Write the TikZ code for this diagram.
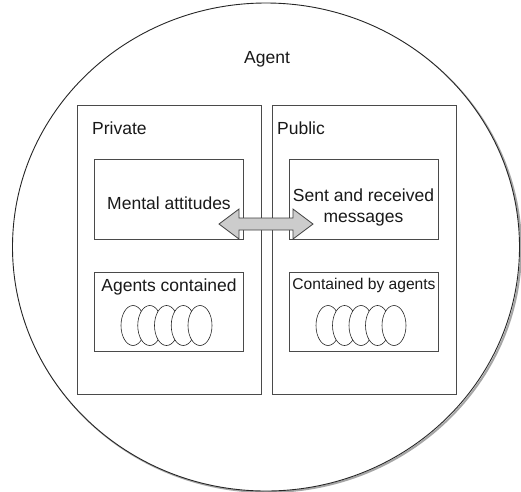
\documentclass[tikz,border=0pt]{standalone}
\usepackage{fontspec}
\setmainfont{Liberation Sans}
\usetikzlibrary{shapes.geometric,calc}
\definecolor{edge}{HTML}{4A4A4A}
\definecolor{arrowfill}{HTML}{CCCCCC}
\tikzset{
  region/.style={draw=edge,line width=0.9pt,fill=white,inner sep=0pt},
  inbox/.style={draw=edge,line width=0.9pt,fill=white,minimum width=149pt,minimum height=80pt,inner sep=0pt},
  lbl/.style={font=\fontsize{17.5}{21}\selectfont,text=black!90,inner sep=0pt,align=center},
  small/.style={font=\fontsize{15.6}{19}\selectfont,text=black!90,inner sep=0pt},
  blob/.style={draw=black!85,line width=0.6pt,fill=white,ellipse,minimum width=24pt,minimum height=40pt,inner sep=0pt},
  dbl/.style={draw=black!75,fill=arrowfill,line width=0.8pt,line join=miter}
}
\begin{document}
\begin{tikzpicture}[x=1pt,y=-1pt]
\useasboundingbox (0,0) rectangle (521,491);
% shadow and outer agent circle
\draw[black!35,line width=2pt] (267.5,248.5) ellipse [x radius=253.5,y radius=243.5];
\node[ellipse,draw=black!85,line width=0.9pt,fill=white,minimum width=507pt,minimum height=488pt,inner sep=0pt] (agent) at (266,247) {};
\node[lbl] (agentlbl) at (267,59) {Agent};
% private / public regions
\node[region,minimum width=184pt,minimum height=289pt] (private) at (169,249.5) {};
\node[region,minimum width=184pt,minimum height=289pt] (public) at (364,249.5) {};
\node[lbl,anchor=west] (privlbl) at (92,128) {Private};
\node[lbl,anchor=west] (publbl) at (277,128) {Public};
% inner boxes
\node[inbox] (mental) at (168.5,199) {};
\node[inbox,minimum height=79pt] (contained) at (168.5,311.5) {};
\node[inbox] (sent) at (363.5,199) {};
\node[inbox,minimum height=79pt] (containedby) at (363.5,311.5) {};
\node[lbl] (mentallbl) at (169,203) {Mental attitudes};
\node[lbl] (sentlbl) at (363.5,207.5) {Sent and received\\messages};
\node[lbl] (contlbl) at (169,287) {Agents contained};
\node[small] (contbylbl) at (364,285) {Contained by agents};
% ellipses
\foreach \i in {0,...,4} {
  \node[blob] (la\i) at ({133+16.75*\i},325.5) {};
}
\foreach \i in {0,...,4} {
  \node[blob] (ra\i) at ({328+16.5*\i},325.5) {};
}
% double arrow between mental attitudes and messages
\coordinate (link) at (266,224);
\draw[dbl] ($(link)+(-47,0)$) -- ($(link)+(-27,-15)$) -- ($(link)+(-27,-6)$)
  -- ($(link)+(27,-6)$) -- ($(link)+(27,-15)$) -- ($(link)+(47,0)$)
  -- ($(link)+(27,15)$) -- ($(link)+(27,6)$) -- ($(link)+(-27,6)$)
  -- ($(link)+(-27,15)$) -- cycle;
\end{tikzpicture}
\end{document}
